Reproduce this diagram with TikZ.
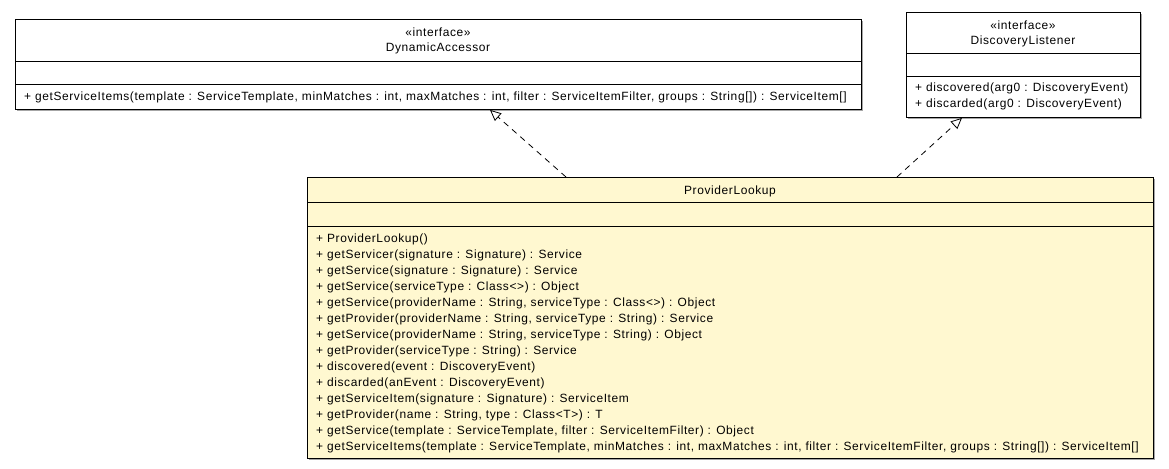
\documentclass[tikz,border=0pt]{standalone}
\usepackage{fontspec}
\setmainfont{Liberation Sans}[LetterSpace=5.1]
\usepackage{xcolor}
\usetikzlibrary{arrows.meta,positioning,calc,shadows}
\definecolor{classfill}{RGB}{255,248,208}

\begin{document}
\begin{tikzpicture}[x=1bp, y=-1bp,
  classbox/.style={draw=black, line width=0.9bp, fill=white, inner sep=0, anchor=north west,
    drop shadow={shadow xshift=1.5bp, shadow yshift=-1.5bp, fill=gray, opacity=0.7}},
  label/.style={font=\fontsize{12}{14}\selectfont, inner sep=0},
  member/.style={label, anchor=west},
  realize/.style={line width=0.8bp, dash pattern=on 6bp off 5bp,
    -{Triangle[open, length=11bp, width=10bp]}}]
\useasboundingbox (0,0) rectangle (1169,469);

% Interfaces
\node[classbox, minimum width=846bp, minimum height=90bp] (da) at (15,19) {};
\draw (da.west |- 0,61) -- (da.east |- 0,61);
\draw (da.west |- 0,84) -- (da.east |- 0,84);
\node[label] (da-st) at (438,32) {«interface»};
\node[label] (da-name) at (438,48) {DynamicAccessor};
\node[member] (da-m1) at (24,97) {+ getServiceItems(template : ServiceTemplate, minMatches : int, maxMatches : int, filter : ServiceItemFilter, groups : String[]) : ServiceItem[]};

\node[classbox, minimum width=234bp, minimum height=105bp] (dl) at (906,12) {};
\draw (dl.west |- 0,53) -- (dl.east |- 0,53);
\draw (dl.west |- 0,76) -- (dl.east |- 0,76);
\node[label] (dl-st) at (1023,25) {«interface»};
\node[label] (dl-name) at (1023,41) {DiscoveryListener};
\node[member] (dl-m1) at (915,88) {+ discovered(arg0 : DiscoveryEvent)};
\node[member] (dl-m2) at (915,104) {+ discarded(arg0 : DiscoveryEvent)};

% Implementing class
\node[classbox, fill=classfill, minimum width=846bp, minimum height=281bp] (pl) at (307,177) {};
\draw (pl.west |- 0,202) -- (pl.east |- 0,202);
\draw (pl.west |- 0,226) -- (pl.east |- 0,226);
\node[label] (pl-name) at (730,191) {ProviderLookup};
\foreach \m [count=\i] in {
  {+ ProviderLookup()},
  {+ getServicer(signature : Signature) : Service},
  {+ getService(signature : Signature) : Service},
  {+ getService(serviceType : Class<>) : Object},
  {+ getService(providerName : String, serviceType : Class<>) : Object},
  {+ getProvider(providerName : String, serviceType : String) : Service},
  {+ getService(providerName : String, serviceType : String) : Object},
  {+ getProvider(serviceType : String) : Service},
  {+ discovered(event : DiscoveryEvent)},
  {+ discarded(anEvent : DiscoveryEvent)},
  {+ getServiceItem(signature : Signature) : ServiceItem},
  {+ getProvider(name : String, type : Class<T>) : T},
  {+ getService(template : ServiceTemplate, filter : ServiceItemFilter) : Object},
  {+ getServiceItems(template : ServiceTemplate, minMatches : int, maxMatches : int, filter : ServiceItemFilter, groups : String[]) : ServiceItem[]}}
  \node[member] (pl-m\i) at (316,223+16*\i) {\m};

% Realizations
\coordinate (pl-to-da) at ($(pl.north west)+(259,0)$);
\coordinate (da-in) at ($(da.south west)+(475,0)$);
\draw[realize] (pl-to-da) -- (da-in);
\coordinate (pl-to-dl) at ($(pl.north west)+(590,0)$);
\coordinate (dl-in) at ($(dl.south west)+(56,0)$);
\draw[realize] (pl-to-dl) -- (dl-in);
\end{tikzpicture}
\end{document}
